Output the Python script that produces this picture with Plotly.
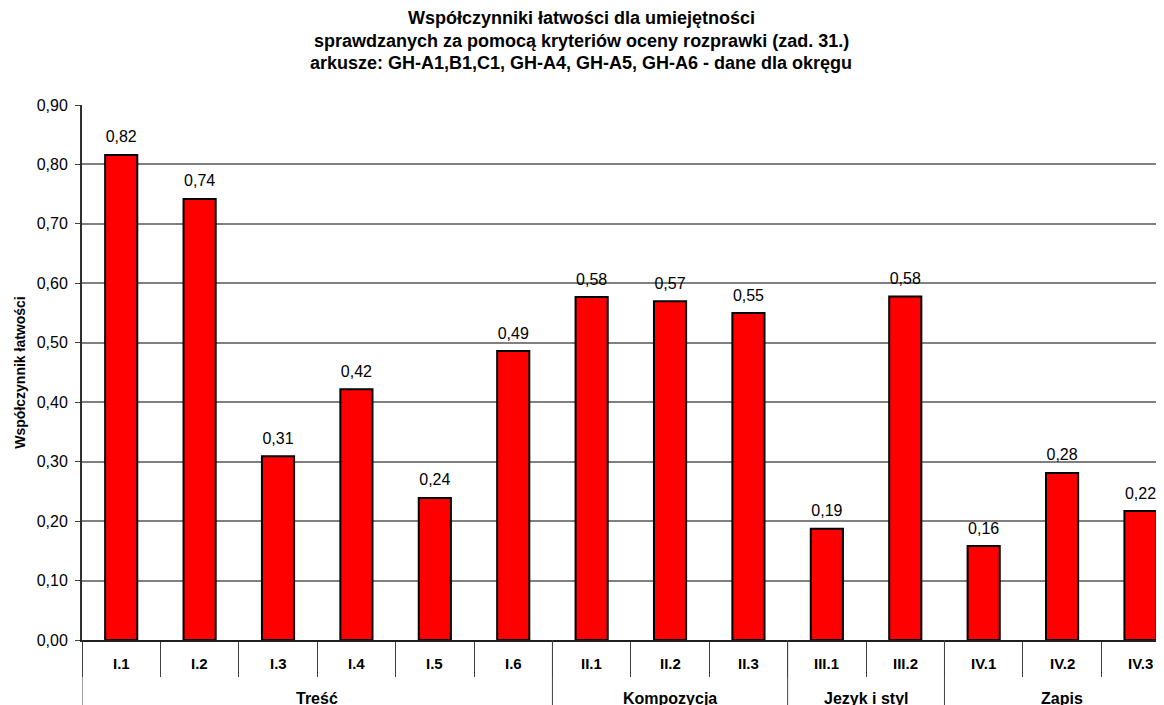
import plotly.graph_objects as go

groups = ['Treść'] * 6 + ['Kompozycja'] * 3 + ['Jezyk i styl'] * 2 + ['Zapis'] * 3
skills = ['I.1', 'I.2', 'I.3', 'I.4', 'I.5', 'I.6',
          'II.1', 'II.2', 'II.3',
          'III.1', 'III.2',
          'IV.1', 'IV.2', 'IV.3']
values = [0.816, 0.742, 0.309, 0.422, 0.239, 0.486,
          0.577, 0.570, 0.550,
          0.187, 0.578,
          0.158, 0.281, 0.217]

title_lines = ['Współczynniki łatwości dla umiejętności',
               'sprawdzanych za pomocą kryteriów oceny rozprawki (zad. 31.)',
               'arkusze: GH-A1,B1,C1, GH-A4, GH-A5, GH-A6 - dane dla okręgu']

FONT = 'Liberation Sans, Arial'
# page body has an 8px margin, so the figure is drawn 8px smaller
W, H = 1156, 697
m_l, m_r, m_t, m_b = 74, 0, 97, 65
plot_h = H - m_t - m_b
plot_w = W - m_l - m_r

fig = go.Figure()

fig.add_trace(go.Bar(
    x=skills,
    y=values,
    marker=dict(color='#FF0000', line=dict(color='black', width=2)),
    width=0.41,
    hoverinfo='skip'
))

# value labels above the bars
fig.add_trace(go.Scatter(
    x=skills,
    y=values,
    mode='markers+text',
    marker=dict(size=12, opacity=0),
    text=[f'{v:.2f}'.replace('.', ',') for v in values],
    textposition='top center',
    textfont=dict(family=FONT, size=16, color='black'),
    hoverinfo='skip'
))

# title (three lines)
for line, ypix in zip(title_lines, [10, 33, 55]):
    fig.add_annotation(
        text=f'<b>{line}</b>',
        xref='paper', yref='paper',
        x=(573 - m_l) / plot_w, y=1 + (m_t - ypix) / plot_h,
        xanchor='center', yanchor='middle',
        showarrow=False,
        font=dict(family=FONT, size=18, color='black')
    )

# skill labels under the axis
for s in skills:
    fig.add_annotation(
        text=f'<b>{s}</b>', x=s, xref='x', y=0, yref='paper',
        yanchor='middle', yshift=-23, showarrow=False,
        font=dict(family=FONT, size=15, color='black')
    )

# group labels and dividers
bounds = [i for i in range(len(groups)) if i == 0 or groups[i] != groups[i - 1]] + [len(groups)]
for a, b in zip(bounds[:-1], bounds[1:]):
    fig.add_annotation(
        text=f'<b>{groups[a]}</b>', x=(a + b - 1) / 2, xref='x', y=0, yref='paper',
        yanchor='middle', yshift=-58, showarrow=False,
        font=dict(family=FONT, size=16, color='black')
    )
for a in bounds:
    fig.add_shape(type='line', xref='x', yref='paper',
                  x0=a - 0.5, x1=a - 0.5, y0=0, y1=-0.2,
                  line=dict(color='#404040', width=1))

fig.update_layout(
    width=W, height=H,
    margin=dict(l=m_l, r=m_r, t=m_t, b=m_b, autoexpand=False),
    plot_bgcolor='white',
    paper_bgcolor='white',
    showlegend=False,
    separators=', ',
    font=dict(family=FONT, size=16, color='black')
)

fig.update_xaxes(
    type='category',
    range=[-0.5, 13.3],
    automargin=False,
    showline=True, linecolor='#202020', linewidth=2,
    ticks='outside', tickson='boundaries', ticklen=35,
    tickcolor='#404040', tickwidth=1,
    showticklabels=False,
    showgrid=False
)
fig.update_yaxes(
    range=[0, 0.9],
    dtick=0.1,
    tickformat='.2f',
    automargin=False,
    showline=True, linecolor='#303030', linewidth=2,
    ticks='outside', ticklen=5, tickcolor='#404040',
    ticklabelstandoff=4,
    showgrid=True, gridcolor='#808080', gridwidth=1.5,
    zeroline=False,
    tickfont=dict(family=FONT, size=16, color='black'),
    title=dict(text='<b>Współczynnik łatwości</b>', standoff=8,
               font=dict(family=FONT, size=14, color='black'))
)

fig.write_html('out.html')
